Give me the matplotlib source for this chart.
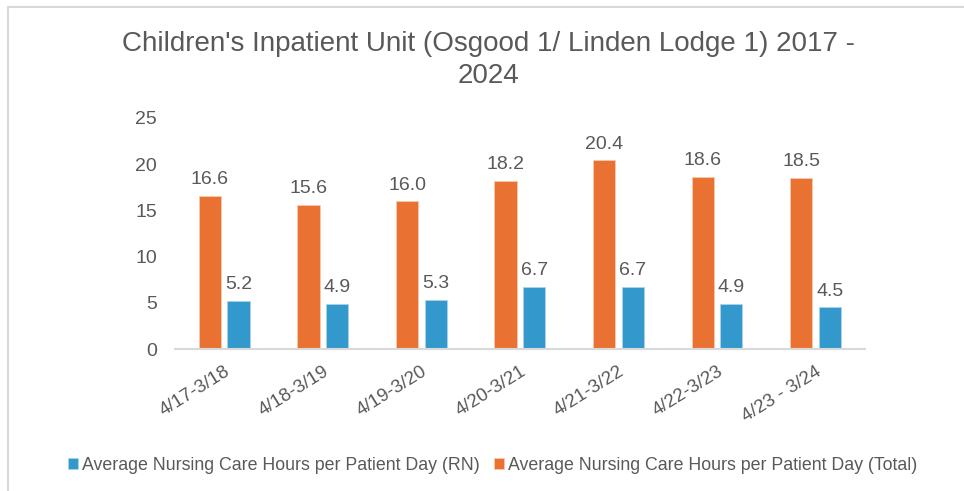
import matplotlib
matplotlib.use("Agg")
import matplotlib.pyplot as plt
from matplotlib.lines import Line2D
import numpy as np

categories = ["4/17-3/18", "4/18-3/19", "4/19-3/20", "4/20-3/21", "4/21-3/22", "4/22-3/23", "4/23 - 3/24"]
rn_values = [5.2, 4.9, 5.3, 6.7, 6.7, 4.9, 4.5]
total_values = [16.6, 15.6, 16.0, 18.2, 20.4, 18.6, 18.5]
yticks = [0, 5, 10, 15, 20, 25]

title = "Children's Inpatient Unit (Osgood 1/ Linden Lodge 1) 2017 -\n2024"
rn_label = "Average Nursing Care Hours per Patient Day (RN)"
total_label = "Average Nursing Care Hours per Patient Day (Total)"

font = "Liberation Sans"
text_color = "#595959"
orange = "#E97132"
blue = "#3399CC"

fig = plt.figure(figsize=(9.64, 4.91), dpi=100)
ax = fig.add_axes([0.1815, 0.2892, 0.7155, 0.4705])

x = np.arange(len(categories))
w = 0.225
off = 0.145
b_tot = ax.bar(x - off, total_values, w, color=orange, edgecolor="#F6C9AE", linewidth=0.6, label=total_label)
b_rn = ax.bar(x + off, rn_values, w, color=blue, edgecolor="#A9D3EA", linewidth=0.6, label=rn_label)

for bars, vals in ((b_tot, total_values), (b_rn, rn_values)):
    for r, v in zip(bars, vals):
        ax.annotate(f"{v:.1f}", (r.get_x() + r.get_width() / 2, v), xytext=(0, 5.5),
                    textcoords="offset points", ha="center", va="bottom",
                    fontsize=14, color=text_color, family=font)

ax.set_xlim(-0.5, len(categories) - 0.5)
ax.set_ylim(0, 25)
ax.set_yticks(yticks)
ax.set_yticklabels([str(t) for t in yticks], fontsize=14, color=text_color, family=font)
ax.set_xticks(x)
ax.set_xticklabels(categories, rotation=32, ha="right", rotation_mode="anchor",
                   fontsize=13.5, color=text_color, family=font)
ax.tick_params(axis="both", length=0)
ax.tick_params(axis="y", pad=13)
ax.tick_params(axis="x", pad=10)
for s in ("top", "right", "left"):
    ax.spines[s].set_visible(False)
ax.spines["bottom"].set_color("#D9D9D9")
ax.spines["bottom"].set_linewidth(1.5)

fig.text(0.507, 0.877, title, ha="center", va="center", fontsize=20, color=text_color,
         family=font, linespacing=1.3)

handles = [b_rn, b_tot]
leg = fig.legend(handles, [rn_label, total_label], loc="center", bbox_to_anchor=(0.511, 0.052),
                 ncol=2, frameon=False, handlelength=0.55, handleheight=0.55, handletextpad=0.25,
                 columnspacing=0.8, prop={"family": font, "size": 12.8})
for t in leg.get_texts():
    t.set_color(text_color)

# chart border (top and left)
fig.add_artist(Line2D([0.0085, 1.0], [0.986, 0.986], color="#D9D9D9", lw=1.5, transform=fig.transFigure))
fig.add_artist(Line2D([0.0085, 0.0085], [0.0, 0.986], color="#D9D9D9", lw=1.5, transform=fig.transFigure))

fig.savefig("out.png", dpi=100)
